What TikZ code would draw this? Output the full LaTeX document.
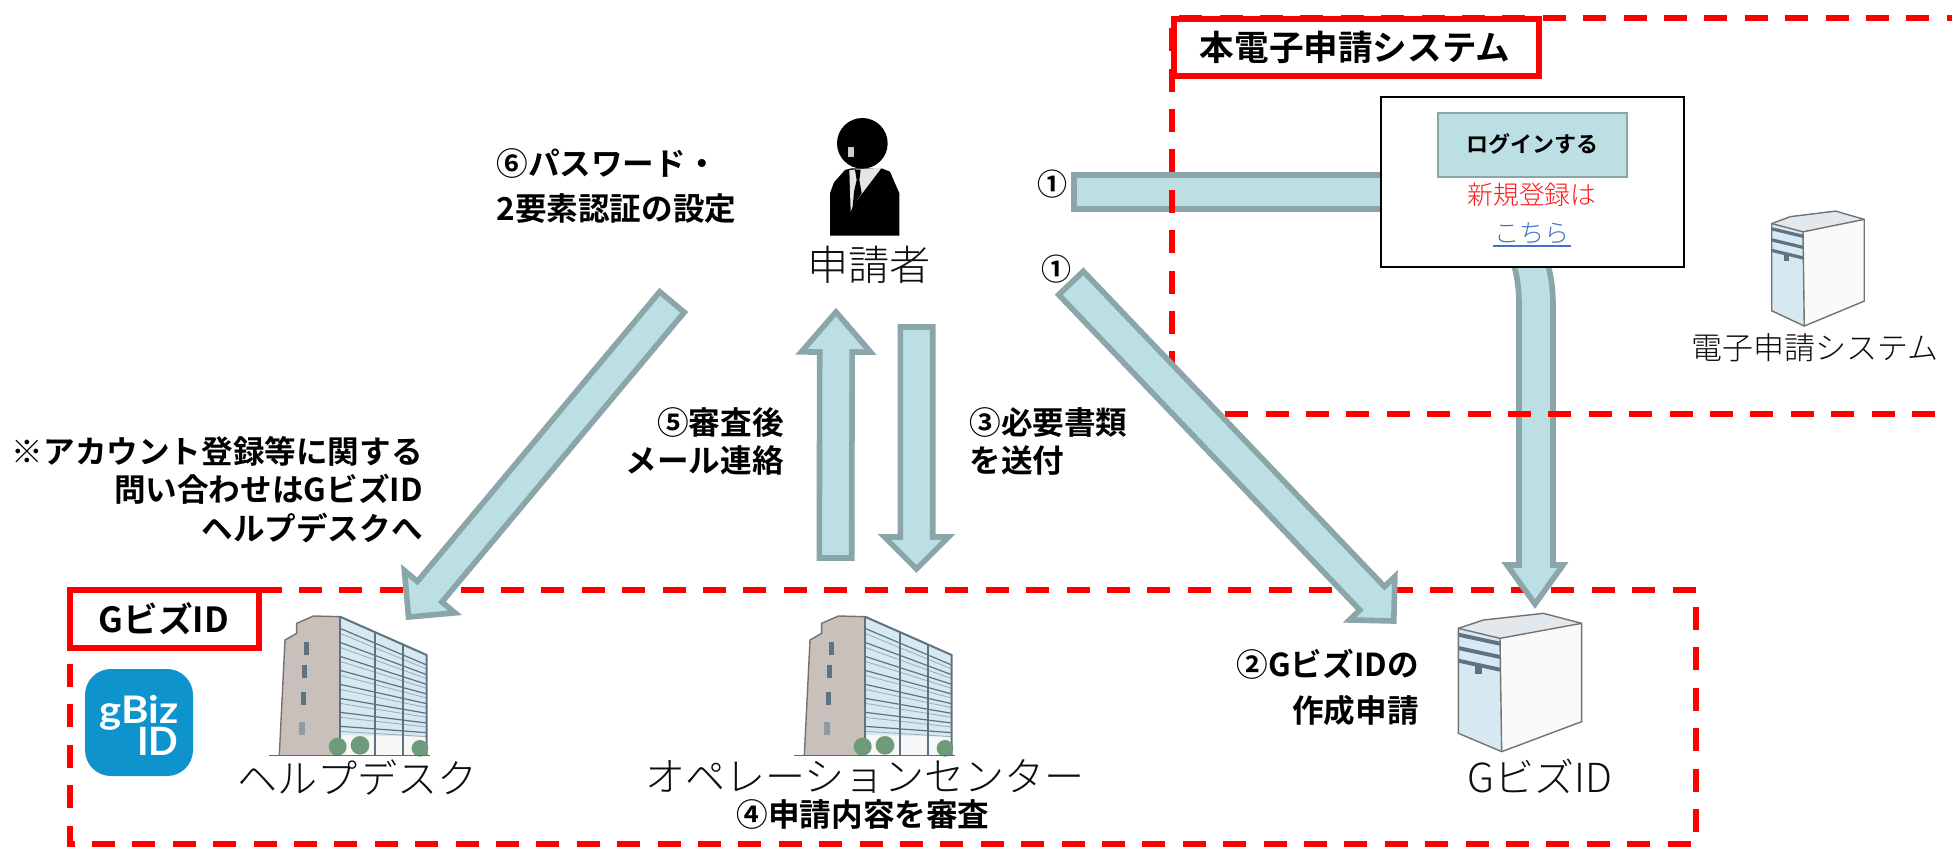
\documentclass[tikz,border=0pt]{standalone}
\usepackage{fontspec}
\usetikzlibrary{calc}
\newfontfamily\jpb{Noto Sans CJK JP Bold}
\newfontfamily\jpl{Noto Sans CJK JP Light}
\newfontfamily\logofont{Lato Bold}
\definecolor{arrowfill}{HTML}{BBDFE2}
\definecolor{arrowline}{HTML}{8BA6A9}
\definecolor{linkblue}{HTML}{4472C4}
\definecolor{dashred}{HTML}{FF0000}
\definecolor{wallc}{HTML}{C9BFBB}
\definecolor{glassc}{HTML}{D6E8F2}
\definecolor{framec}{HTML}{5F7280}
\definecolor{treec}{HTML}{6E9C7A}
\definecolor{logoblue}{HTML}{0E93CD}
\tikzset{
  blockarrow/.style={fill=arrowfill,draw=arrowline,line width=2.8pt,miter limit=10},
  dashbox/.style={draw=dashred,line width=3pt,dash pattern=on 11.5pt off 8.7pt},
  labelbox/.style={draw=dashred,line width=3pt,fill=white,outer sep=0pt,inner sep=0pt,anchor=north west},
  boldtext/.style={font=\jpb\fontsize{15.8}{19.3}\selectfont,inner sep=0pt,text=black},
  thintext/.style={font=\jpl\fontsize{20}{24}\selectfont,inner sep=0pt,text=black!95},
}
\newcommand\blockarr[5]{%
  \coordinate (hh) at ($(#2)!#5!(#1)$);
  \path[blockarrow] ($(#1)!#3!90:(#2)$) -- ($(hh)!#3!90:(#2)$) -- ($(hh)!#4!90:(#2)$)
    -- (#2) -- ($(hh)!#4!-90:(#2)$) -- ($(hh)!#3!-90:(#2)$) -- ($(#1)!#3!-90:(#2)$) -- cycle;
}
\newcommand\buildingshape[1]{%
\begin{scope}[shift={(#1)},scale=0.3333]
  \fill[wallc] (75,120)--(110,100)--(110,70)--(160,48)--(240,50)--(240,465)--(58,465)--cycle;
  \fill[glassc] (240,50)--(500,165)--(500,465)--(240,465)--cycle;
  \fill[black!3] (240,405)--(500,410)--(500,465)--(240,465)--cycle;
  \foreach \i in {0,...,7}{
    \draw[framec,line width=.6pt] (240,{85+42*\i})--(500,{195+29*\i});
    \draw[framec!60,line width=.4pt] (240,{100+42*\i})--(500,{207+29*\i});
  }
  \draw[framec,line width=1pt] (240,50)--(500,165)--(500,465);
  \draw[framec,line width=1pt] (240,50)--(240,465);
  \draw[framec,line width=1pt] (345,97)--(345,465);
  \draw[framec,line width=1pt] (430,134)--(430,465);
  \draw[black!55,line width=.7pt] (58,465)--(75,120)--(110,100)--(110,70)--(160,48)--(240,50);
  \fill[framec] (132,125) rectangle (148,165);
  \fill[framec] (125,195) rectangle (141,235);
  \fill[framec] (123,275) rectangle (139,315);
  \fill[framec!70] (116,365) rectangle (136,405);
  \fill[treec] (233,440) circle (27);
  \fill[treec] (300,436) circle (28);
  \fill[treec] (480,445) circle (25);
  \draw[black!60,line width=.8pt] (28,466)--(510,466);
\end{scope}}
\newcommand\servershape[3]{%
\begin{scope}[shift={(#1)},xscale=#2,yscale=#3]
  \fill[black!2] (150,115)--(400,70)--(395,365)--(155,455)--cycle;
  \fill[glassc] (25,85)--(150,115)--(155,455)--(25,400)--cycle;
  \fill[glassc!85!black!40] (25,85)--(100,60)--(280,40)--(395,70)--(150,115)--cycle;
  \foreach \d in {0,40,78}{
    \fill[framec] (25,{98+\d})--(150,{125+\d})--(150,{137+\d})--(25,{110+\d})--cycle;
  }
  \fill[framec] (75,195) rectangle (95,222);
  \draw[black!55,line width=.7pt] (25,85)--(100,60)--(280,40)--(395,70)--(395,365)--(155,455)--(25,400)--cycle;
  \draw[black!55,line width=.7pt] (25,85)--(150,115)--(155,455) (150,115)--(395,70);
\end{scope}}
\begin{document}
\begin{tikzpicture}[x=0.5pt,y=-0.5pt]
\useasboundingbox (0,0) rectangle (1952,846);
\fill[white] (0,0) rectangle (1952,846);

% lower dashed region
\path[dashbox,dash phase=6.7pt] (70,590) -- (1696,590) -- (1696,844) -- (70,844) -- cycle;

% arrows lying under the upper dashed region
\coordinate (arrHtail) at (1074,192);
\coordinate (arrHend) at (1390,192);
\path[blockarrow] (1074,175) -- (1390,175) -- (1390,209) -- (1074,209) -- cycle;
\coordinate (serverhead) at (1535,604);
\path[blockarrow] (1513,262) .. controls (1517,275) and (1519,288) .. (1519,305)
   -- (1519,565) -- (1507,565) -- (serverhead) -- (1563,565) -- (1553,565) -- (1553,305)
   .. controls (1553,288) and (1551,275) .. (1547,262) -- cycle;

% upper dashed region
\path[dashbox,dash phase=0.65pt] (1172,413.5) -- (1172,18) -- (1960,18);
\path[dashbox,dash phase=13.8pt] (1172,413.5) -- (1960,413.5);

% labels of the regions
\node[labelbox,minimum width=182.5pt,minimum height=28.5pt] (sysbox) at (1174,19) {};
\node[boldtext,font=\jpb\fontsize{17.3}{20}\selectfont] (systitle) at (1355,47) {本電子申請システム};
\node[labelbox,minimum width=94.25pt,minimum height=29pt] (gbizbox) at (70,590) {};
\node[boldtext,font=\jpb\fontsize{17.3}{20}\selectfont] (gbiztitle) at (164,619) {GビズID};

% remaining arrows
\coordinate (a1tail) at (1071,283);
\coordinate (a1tip) at (1393.8,621);
\blockarr{a1tail}{a1tip}{8.5pt}{15.7pt}{15.7pt}
\coordinate (a6tail) at (672,302);
\coordinate (a6tip) at (408.5,617);
\blockarr{a6tail}{a6tip}{8pt}{16.5pt}{16.5pt}
\coordinate (a5tail) at (835.5,558);
\coordinate (a5tip) at (836,312);
\blockarr{a5tail}{a5tip}{8.1pt}{17.3pt}{20pt}
\coordinate (a3tail) at (916.5,327);
\coordinate (a3tip) at (916.5,569);
\blockarr{a3tail}{a3tip}{8.1pt}{16pt}{16pt}

% login window
\node[draw=black,line width=.95pt,fill=white,anchor=north west,inner sep=0pt,outer sep=0pt,minimum width=151.5pt,minimum height=85pt] (loginwin) at (1381,97) {};
\node[fill=arrowfill,draw=arrowline,line width=1.3pt,anchor=north west,inner sep=0pt,outer sep=0pt,minimum width=94.5pt,minimum height=32pt] (loginbtn) at (1438,113) {};
\node[boldtext,font=\jpb\fontsize{11}{13}\selectfont] (logintext) at (1532.5,144) {ログインする};
\node[inner sep=0pt,font=\jpl\fontsize{12.9}{15}\selectfont,text=red!90!white] (signup) at (1532,195) {新規登録は};
\node[inner sep=0pt,font=\jpl\fontsize{12.6}{15}\selectfont,text=linkblue] (here) at (1532,233) {こちら};
\coordinate (ulA) at (1493,246);
\coordinate (ulB) at (1571,246);
\draw[linkblue,line width=.7pt] (ulA) -- (ulB);

% person
\begin{scope}[shift={(810,105)},scale=0.3333]
  \fill[black] (157,115) circle (76);
  \fill[black!20] (113,125) rectangle (132,155);
  \fill[black] (60,392)--(60,265)--(72,232)--(105,195)--(125,190)--(215,190)--(240,200)--(268,265)--(268,392)--cycle;
  \fill[black!10] (118,195)--(215,188)--(130,300)--(122,320)--cycle;
  \fill[black] (135,195)--(152,195)--(148,225)--(155,265)--(128,305)--(132,260)--(140,225)--cycle;
\end{scope}

% buildings and servers
\buildingshape{260,600}
\buildingshape{785,600}
\servershape{1450,600}{0.3333}{0.3333}
\servershape{1765.5,200}{0.25}{0.277}

% logo
\fill[logoblue,rounded corners=13pt] (85,669) rectangle (193,776);
\node[inner sep=0pt,anchor=base east,xscale=1.1,transform shape,font=\logofont\fontsize{19}{22}\selectfont,text=white] (logoa) at (179,723) {gBiz};
\node[inner sep=0pt,anchor=base east,font=\logofont\fontsize{19.5}{22}\selectfont,text=white] (logob) at (179,755) {ID};

% thin captions
\node[thintext,font=\jpl\fontsize{20.6}{24}\selectfont] (applicant) at (869,265) {申請者};
\node[thintext] (helpdesk) at (357,778) {ヘルプデスク};
\node[thintext] (opcenter) at (865,776) {オペレーションセンター};
\node[thintext] (gbizcap) at (1540,776) {GビズID};
\node[thintext,font=\jpl\fontsize{15.5}{18}\selectfont] (syscap) at (1815,348) {電子申請システム};

% bold labels
\node[boldtext,anchor=west,align=left,font=\jpb\fontsize{15.8}{22.5}\selectfont] (step6) at (496,186.5) {⑥パスワード・\\2要素認証の設定};
\node[boldtext,font=\jpb\fontsize{15}{18}\selectfont] (one1) at (1052,184) {①};
\node[boldtext,font=\jpb\fontsize{15}{18}\selectfont] (one2) at (1056,269) {①};
\node[boldtext,anchor=east,align=right] (note) at (423,489.5) {※アカウント登録等に関する\\問い合わせはGビズID\\ヘルプデスクへ};
\node[boldtext,anchor=east,align=right] (step5) at (784,441.5) {⑤審査後\\メール連絡};
\node[boldtext,anchor=west,align=left] (step3) at (969,441.5) {③必要書類\\を送付};
\node[boldtext,anchor=east,align=right,font=\jpb\fontsize{15.8}{23}\selectfont] (step2) at (1419,687) {②GビズIDの\\作成申請};
\node[boldtext] (step4) at (863,814) {④申請内容を審査};
\end{tikzpicture}
\end{document}
